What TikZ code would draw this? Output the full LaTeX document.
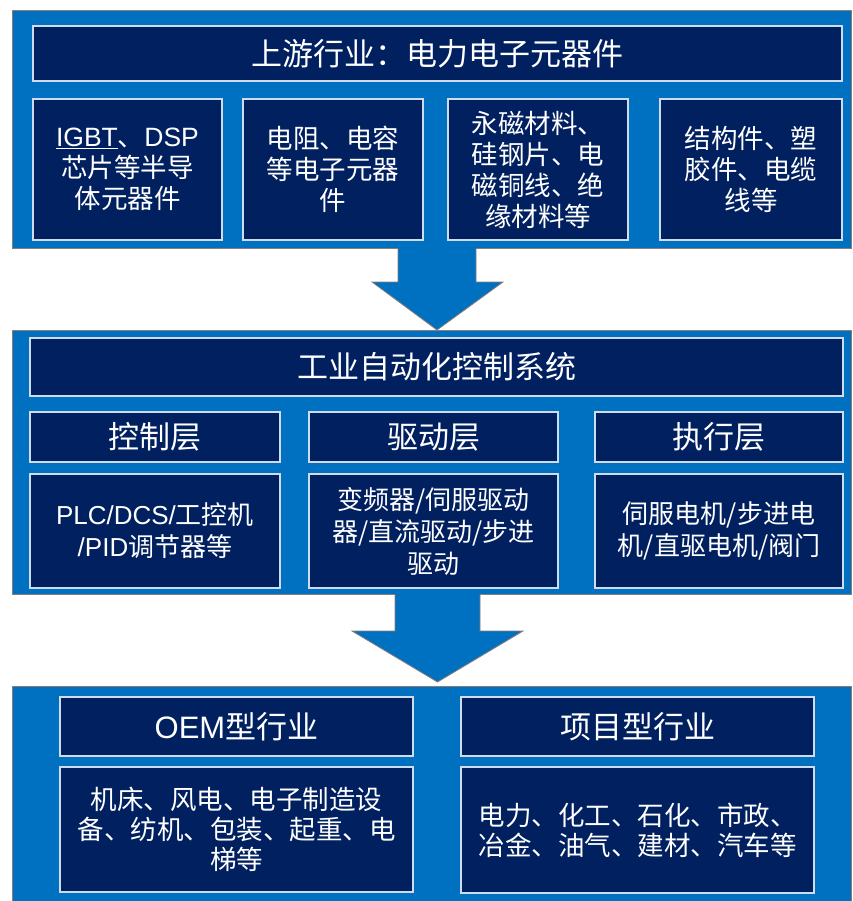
\documentclass[tikz,border=0pt]{standalone}
\usepackage{fontspec}
\setmainfont{Noto Sans CJK SC}
\newfontfamily\latfont{Liberation Sans}
\newcommand\lat[1]{{\latfont #1}}
\definecolor{panelblue}{HTML}{0070C0}
\definecolor{navy}{HTML}{002060}
\definecolor{boxedge}{HTML}{D0DCEC}
\definecolor{paneledge}{HTML}{8C7C78}
\tikzset{
  panel/.style={fill=panelblue, draw=paneledge, line width=0.8pt, inner sep=0pt},
  navybox/.style={fill=navy, draw=boxedge, line width=1.3pt, text=white, align=center, inner sep=0pt},
  titlefont/.style={font=\fontsize{31}{36}\selectfont},
  bodyfont/.style={font=\fontsize{26.5}{31}\selectfont},
  midfont/.style={font=\fontsize{26}{32}\selectfont},
  lowfont/.style={font=\fontsize{26.5}{30}\selectfont},
  blockarrow/.style={fill=panelblue},
  arrowedge/.style={draw=paneledge, line width=0.8pt},
}
\begin{document}
\begin{tikzpicture}[x=1pt,y=-1pt]
\clip (0,0) rectangle (852,901);
\fill[white] (0,0) rectangle (852,901);
% panel 1
\node[panel, minimum width=839pt, minimum height=238pt] (p1) at (431.5,129) {};
\node[navybox, titlefont, minimum width=809pt, minimum height=55pt] (t1) at (437.5,53.5) {上游行业：电力电子元器件};
\node[navybox, bodyfont, minimum width=189pt, minimum height=141pt] (b1) at (127.5,169.5) {\lat{\underline{IGBT}}、\lat{DSP}\\芯片等半导\\体元器件};
\node[navybox, bodyfont, minimum width=180pt, minimum height=141pt] (b2) at (333,169.5) {电阻、电容\\等电子元器\\件};
\node[navybox, bodyfont, minimum width=180pt, minimum height=141pt] (b3) at (538,169.5) {永磁材料、\\硅钢片、电\\磁铜线、绝\\缘材料等};
\node[navybox, bodyfont, minimum width=182pt, minimum height=141pt] (b4) at (751,169.5) {结构件、塑\\胶件、电缆\\线等};
% panel 2
\node[panel, minimum width=839pt, minimum height=264pt] (p2) at (431.5,462) {};
\node[navybox, titlefont, minimum width=813pt, minimum height=58pt] (t2) at (436.5,367) {工业自动化控制系统};
\node[navybox, titlefont, minimum width=250pt, minimum height=50pt] (l1) at (155,437) {控制层};
\node[navybox, titlefont, minimum width=249pt, minimum height=50pt] (l2) at (433.5,437) {驱动层};
\node[navybox, titlefont, minimum width=248pt, minimum height=50pt] (l3) at (719,437) {执行层};
\node[navybox, midfont, minimum width=250pt, minimum height=114pt] (c1) at (155,531) {\lat{PLC/DCS/}工控机\\\lat{/PID}调节器等};
\node[navybox, midfont, minimum width=249pt, minimum height=114pt] (c2) at (433.5,531) {变频器/伺服驱动\\器/直流驱动/步进\\驱动};
\node[navybox, midfont, minimum width=248pt, minimum height=114pt] (c3) at (719,531) {伺服电机/步进电\\机/直驱电机/阀门};
% panel 3
\node[panel, minimum width=839pt, minimum height=230pt] (p3) at (431.5,801) {};
\node[navybox, titlefont, minimum width=353pt, minimum height=59pt] (o1) at (236.5,726.5) {\lat{OEM}型行业};
\node[navybox, lowfont, minimum width=353pt, minimum height=125pt] (o2) at (236.5,829.5) {机床、风电、电子制造设\\备、纺机、包装、起重、电\\梯等};
\node[navybox, titlefont, minimum width=353pt, minimum height=59pt] (q1) at (637.5,726.5) {项目型行业};
\node[navybox, lowfont, minimum width=353pt, minimum height=126pt] (q2) at (637.5,830) {电力、化工、石化、市政、\\冶金、油气、建材、汽车等};
% arrow 1 (from panel p1 to panel p2)
\fill[blockarrow] (398,248) -- (398,282) -- (372,282) -- (437,330) -- (503,282) -- (476,282) -- (476,248) -- cycle;
\draw[arrowedge] (398,248.4) -- (398,282) -- (372,282) -- (437,330) -- (503,282) -- (476,282) -- (476,248.4);
% arrow 2 (from panel p2 to panel p3)
\fill[blockarrow] (395,594) -- (395,631) -- (352,631) -- (437.5,682) -- (523,631) -- (480,631) -- (480,594) -- cycle;
\draw[arrowedge] (395,594.4) -- (395,631) -- (352,631) -- (437.5,682) -- (523,631) -- (480,631) -- (480,594.4);
\end{tikzpicture}
\end{document}
